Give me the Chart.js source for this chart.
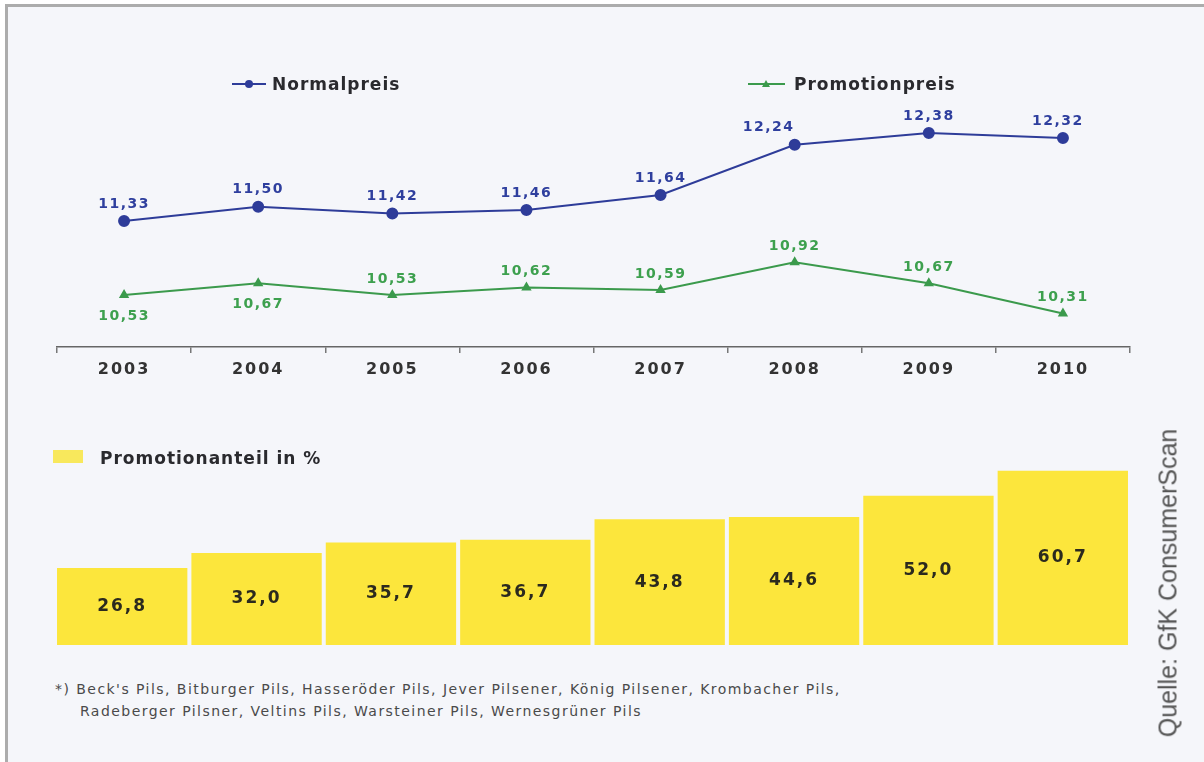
<!DOCTYPE html>
<html>
<head>
<meta charset="utf-8">
<script src="https://cdn.jsdelivr.net/npm/chart.js@4/dist/chart.umd.min.js"></script>
<style>
  html, body { margin:0; padding:0; }
  body { width:1204px; height:762px; overflow:hidden; position:relative; background:#ffffff; font-family:"DejaVu Sans", sans-serif; }
  #frame { position:absolute; left:5px; top:4px; width:1199px; height:758px; border-left:3px solid #acacac; border-top:3px solid #acacac; background:#f5f6fa; }
  canvas { position:absolute; left:0; }
  #lineCanvas { top:0; }
  #barCanvas { top:440px; }
  .leg { position:absolute; font-weight:bold; font-size:17px; letter-spacing:1px; color:#2a2a2e; line-height:20px; white-space:nowrap; }
  .mark { position:absolute; }
  .foot { position:absolute; font-family:"DejaVu Sans", sans-serif; font-size:14px; letter-spacing:1.45px; line-height:22px; color:#4a4a4a; white-space:nowrap; }
  #src { position:absolute; left:1168px; top:583px; transform:translate(-50%,-50%) rotate(-90deg); font-family:"Liberation Sans", Arial, sans-serif; font-size:25px; color:#555; white-space:nowrap; }
</style>
</head>
<body>
<div id="frame"></div>
<canvas id="lineCanvas" width="1204" height="400"></canvas>
<canvas id="barCanvas" width="1204" height="220"></canvas>

<svg class="mark" style="left:230px;top:76px" width="40" height="16"><line x1="2" y1="8" x2="36" y2="8" stroke="#2e3c99" stroke-width="2"/><circle cx="19" cy="8" r="4" fill="#2e3c99"/></svg>
<div class="leg" style="left:272px;top:74px">Normalpreis</div>
<svg class="mark" style="left:746px;top:76px" width="42" height="16"><line x1="2" y1="8" x2="39" y2="8" stroke="#3b9a4c" stroke-width="2"/><polygon points="20,4 24,11 16,11" fill="#3b9a4c"/></svg>
<div class="leg" style="left:794px;top:74px">Promotionpreis</div>

<div class="mark" style="left:53px;top:450px;width:30px;height:13px;background:#f8e85c"></div>
<div class="leg" style="left:100px;top:448px">Promotionanteil in %</div>

<div class="foot" style="left:55px;top:678px">*) Beck's Pils, Bitburger Pils, Hasseröder Pils, Jever Pilsener, König Pilsener, Krombacher Pils,</div>
<div class="foot" style="left:80px;top:700px">Radeberger Pilsner, Veltins Pils, Warsteiner Pils, Wernesgrüner Pils</div>
<div id="src">Quelle: GfK ConsumerScan</div>

<script>
const years = ['2003', '2004', '2005', '2006', '2007', '2008', '2009', '2010'];
const normalpreis = [11.33, 11.50, 11.42, 11.46, 11.64, 12.24, 12.38, 12.32];
const promotionpreis = [10.53, 10.67, 10.53, 10.62, 10.59, 10.92, 10.67, 10.31];
const promotionanteil = [26.8, 32.0, 35.7, 36.7, 43.8, 44.6, 52.0, 60.7];

const valueLabels = {
  id: 'valueLabels',
  afterDatasetsDraw(chart) {
    const ctx = chart.ctx;
    chart.data.datasets.forEach((ds, di) => {
      const cfg = ds.labelCfg;
      if (!cfg) return;
      const meta = chart.getDatasetMeta(di);
      ctx.save();
      ctx.font = cfg.font;
      ctx.fillStyle = cfg.color;
      ctx.textAlign = 'center';
      ctx.textBaseline = 'middle';
      ctx.letterSpacing = cfg.spacing || '0px';
      meta.data.forEach((el, i) => {
        const v = ds.data[i];
        const txt = v.toFixed(cfg.decimals).replace('.', ',');
        let y;
        if (cfg.mode === 'bar') {
          y = (el.y + el.base) / 2;
        } else {
          const below = (cfg.below || []).includes(i);
          y = el.y + (below ? cfg.belowOffset : cfg.aboveOffset);
        }
        const x = el.x + ((cfg.dx && cfg.dx[i]) || 0);
        ctx.fillText(txt, x, y);
      });
      ctx.restore();
    });
  }
};

const tickSpacing = {
  id: 'tickSpacing',
  beforeDraw(chart) { chart.ctx.letterSpacing = '2px'; },
  afterDraw(chart) { chart.ctx.letterSpacing = '0px'; }
};

new Chart(document.getElementById('lineCanvas'), {
  type: 'line',
  data: {
    labels: years,
    datasets: [
      {
        label: 'Normalpreis',
        data: normalpreis,
        yAxisID: 'y',
        borderColor: '#2e3c99',
        backgroundColor: '#2e3c99',
        borderWidth: 2,
        pointStyle: 'circle',
        pointRadius: 5,
        pointBackgroundColor: '#2e3c99',
        pointBorderColor: '#2e3c99',
        tension: 0,
        labelCfg: { font: 'bold 14px "DejaVu Sans"', color: '#2f3f9e', spacing: '1.5px', decimals: 2, aboveOffset: -17, belowOffset: 20, dx: [0, 0, 0, 0, 0, -26, 0, -5] }
      },
      {
        label: 'Promotionpreis',
        data: promotionpreis,
        yAxisID: 'y2',
        borderColor: '#3b9a4c',
        backgroundColor: '#3b9a4c',
        borderWidth: 2,
        pointStyle: 'triangle',
        pointRadius: 4,
        pointBackgroundColor: '#3b9a4c',
        pointBorderColor: '#3b9a4c',
        tension: 0,
        labelCfg: { font: 'bold 14px "DejaVu Sans"', color: '#3da04e', spacing: '1.5px', decimals: 2, aboveOffset: -16, belowOffset: 21, below: [0, 1] }
      }
    ]
  },
  options: {
    responsive: false,
    animation: false,
    layout: { padding: { left: 57, right: 74, top: 50, bottom: 0 } },
    plugins: { legend: { display: false }, tooltip: { enabled: false } },
    scales: {
      x: {
        offset: true,
        grid: { display: true, offset: true, drawOnChartArea: false, drawTicks: true, tickLength: 6, color: '#777', lineWidth: 1.5 },
        border: { display: true, color: '#666', width: 1.5 },
        ticks: { font: { family: 'DejaVu Sans', size: 16, weight: 'bold' }, color: '#333', padding: 7, maxRotation: 0 },
        afterFit(scale) { scale.height = 53; }
      },
      y: { display: false, min: 9.826, max: 13.371 },
      y2: { display: false, min: 9.9095, max: 13.454 }
    }
  },
  plugins: [tickSpacing, valueLabels]
});

new Chart(document.getElementById('barCanvas'), {
  type: 'bar',
  data: {
    labels: years,
    datasets: [
      {
        label: 'Promotionanteil in %',
        data: promotionanteil,
        backgroundColor: '#fce63c',
        borderWidth: 0,
        barPercentage: 0.97,
        categoryPercentage: 1.0,
        labelCfg: { mode: 'bar', font: 'bold 17px "DejaVu Sans"', color: '#2b2a1e', spacing: '2px', decimals: 1 }
      }
    ]
  },
  options: {
    responsive: false,
    animation: false,
    layout: { padding: { left: 55, right: 74, top: 0, bottom: 15 } },
    plugins: { legend: { display: false }, tooltip: { enabled: false } },
    scales: {
      x: { display: false },
      y: { display: false, min: 0, max: 71.4 }
    }
  },
  plugins: [valueLabels]
});
</script>
</body>
</html>
